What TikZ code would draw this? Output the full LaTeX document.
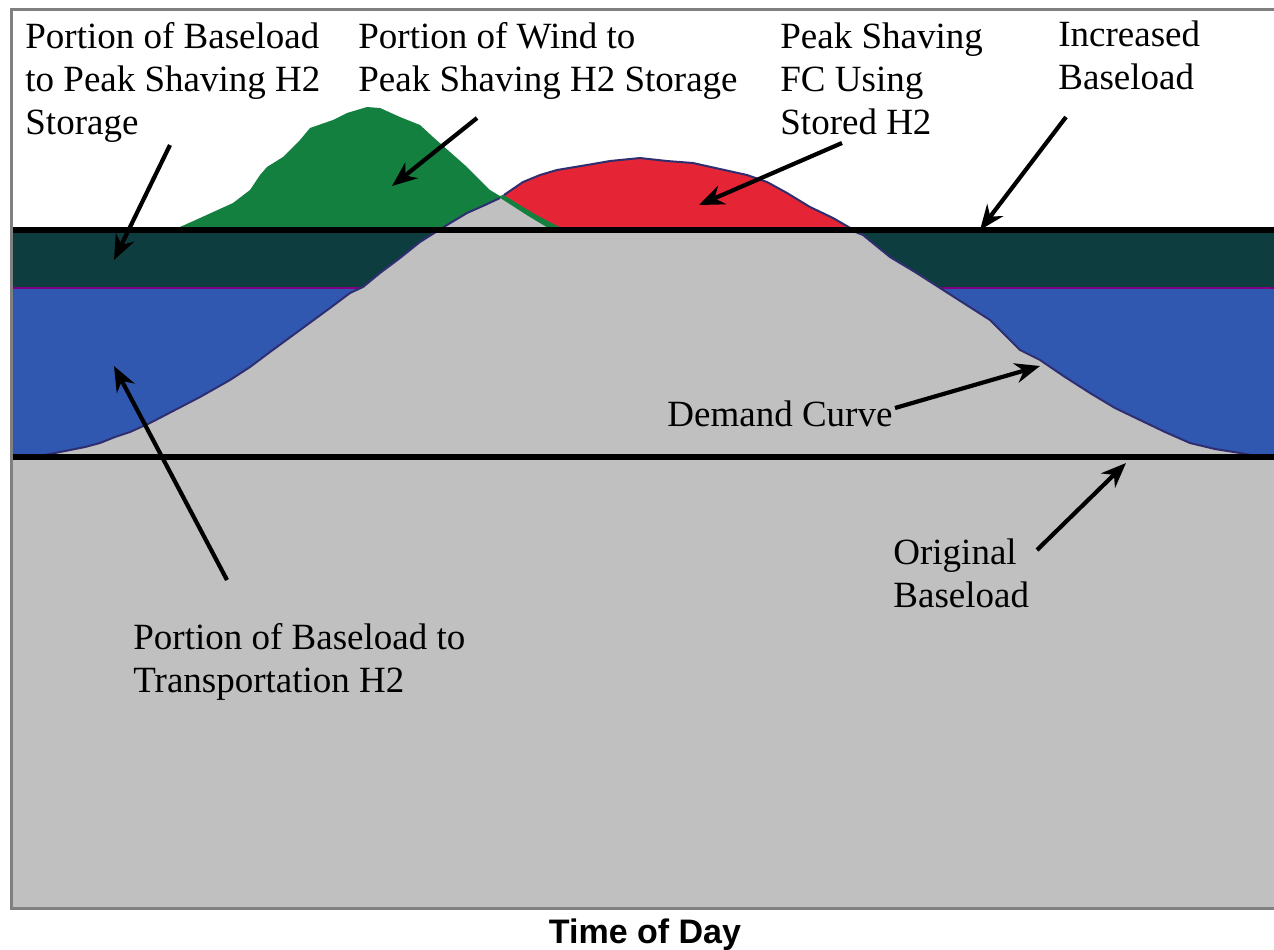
\documentclass[tikz,border=0pt]{standalone}
\usepackage{fontspec}
\setmainfont{Liberation Serif}
\newfontfamily\axisfont{Liberation Sans}
\usetikzlibrary{arrows.meta}
\definecolor{bandteal}{RGB}{14,61,64}
\definecolor{bandblue}{RGB}{48,88,176}
\definecolor{plotgray}{RGB}{192,192,192}
\definecolor{windgreen}{RGB}{20,128,64}
\definecolor{peakred}{RGB}{229,37,53}
\definecolor{curvenavy}{RGB}{46,46,112}
\definecolor{linepurple}{RGB}{128,0,128}
\definecolor{framegray}{RGB}{128,128,128}
\tikzset{
  lbl/.style={anchor=north west,inner sep=0pt,align=left,font=\fontsize{18.5}{21.5}\selectfont},
  pointer/.style={line width=2.1pt,-{Stealth[length=12.5pt,width=10pt]}},
  baseline/.style={line width=3pt,black},
  demand/.style={curvenavy,line width=1pt,line join=round}
}
\begin{document}
\begin{tikzpicture}[x=0.5pt,y=-0.5pt]
\useasboundingbox (0,0) rectangle (1274,949);
\fill[white] (0,0) rectangle (1274,949);
% bands
\fill[bandteal] (11,231) rectangle (1274,288);
\fill[bandblue] (11,288) rectangle (1274,457);
\fill[plotgray] (11,457) rectangle (1274,908);
\draw[linepurple,line width=1.2pt] (11,288) -- (1274,288);
% wind hill
\fill[windgreen] (165,230) -- (180,227) -- (200,218) -- (233,203) -- (250,190) -- (260,175) -- (267,167)
  -- (283,157) -- (300,140) -- (310,128) -- (333,120) -- (347,113) -- (367,107) -- (380,108)
  -- (400,117) -- (420,125) -- (433,137) -- (450,152) -- (467,167) -- (490,190) -- (500,196)
  -- (508,193) -- (540,210) -- (575,231) -- cycle;
% peak shaving dome
\fill[peakred] (504,195) -- (523,182) -- (540,175) -- (557,170) -- (587,165) -- (610,161) -- (640,158)
  -- (667,161) -- (693,163) -- (720,169) -- (747,175) -- (767,182) -- (787,193) -- (810,207)
  -- (833,218) -- (852,229) -- (566,230) -- (550,222) -- (535,214) -- (520,205) -- cycle;
% demand mountain
\fill[plotgray] (35,457) -- (45,455) -- (70,450) -- (85,447) -- (100,443) -- (115,437) -- (130,432)
  -- (150,423) -- (175,410) -- (200,397) -- (230,380) -- (250,367) -- (270,352) -- (300,330)
  -- (330,308) -- (350,293) -- (363,287) -- (380,273) -- (400,258) -- (420,242) -- (447,225)
  -- (467,213) -- (485,205) -- (500,198) -- (514,207) -- (528,216) -- (553,231)
  -- (853,231) -- (863,235) -- (890,257) -- (915,272) -- (940,288) -- (965,304) -- (990,320)
  -- (1020,350) -- (1040,360) -- (1065,377) -- (1090,393) -- (1115,408) -- (1140,420)
  -- (1165,432) -- (1190,443) -- (1215,449) -- (1240,453) -- (1262,457) -- cycle;
\draw[demand] (35,457) -- (45,455) -- (70,450) -- (85,447) -- (100,443) -- (115,437) -- (130,432)
  -- (150,423) -- (175,410) -- (200,397) -- (230,380) -- (250,367) -- (270,352) -- (300,330)
  -- (330,308) -- (350,293) -- (363,287) -- (380,273) -- (400,258) -- (420,242) -- (447,225)
  -- (467,213) -- (485,205) -- (500,198);
\draw[demand] (504,195) -- (523,182) -- (540,175) -- (557,170) -- (587,165) -- (610,161) -- (640,158)
  -- (667,161) -- (693,163) -- (720,169) -- (747,175) -- (767,182) -- (787,193) -- (810,207)
  -- (833,218) -- (852,229);
\draw[demand] (853,231) -- (863,235) -- (890,257) -- (915,272) -- (940,288) -- (965,304) -- (990,320)
  -- (1020,350) -- (1040,360) -- (1065,377) -- (1090,393) -- (1115,408) -- (1140,420)
  -- (1165,432) -- (1190,443) -- (1215,449) -- (1240,453) -- (1262,457);
% baseload lines
\draw[baseline] (11,230) -- (1274,230);
\draw[baseline] (11,457) -- (1274,457);
% frame
\draw[framegray,line width=1.5pt] (1274,9) -- (11,9) -- (11,908) -- (1274,908);
% labels
\node[lbl] (lbase) at (25,22) {Portion of Baseload\\to Peak Shaving H2\\Storage};
\node[lbl] (lwind) at (358,22) {Portion of Wind to\\Peak Shaving H2 Storage};
\node[lbl] (lfc) at (780,22) {Peak Shaving\\FC Using\\Stored H2};
\node[lbl] (linc) at (1058,20) {Increased\\Baseload};
\node[lbl] (ldem) at (667,400) {Demand Curve};
\node[lbl] (lorig) at (893,538) {Original\\Baseload};
\node[lbl] (ltrans) at (133,623) {Portion of Baseload to\\Transportation H2};
\node[font=\axisfont\bfseries\fontsize{17}{20}\selectfont] (axis) at (645,935) {Time of Day};
% pointer coordinates
\coordinate (t1) at (170,145); \coordinate (h1) at (114,260);
\coordinate (t2) at (477,118); \coordinate (h2) at (392,186);
\coordinate (t3) at (842,143); \coordinate (h3) at (699,205);
\coordinate (t4) at (1066,117); \coordinate (h4) at (980,230);
\coordinate (t5) at (895,408); \coordinate (h5) at (1040,366);
\coordinate (t6) at (1037,550); \coordinate (h6) at (1126,463);
\coordinate (t7) at (227,580); \coordinate (h7) at (114,366);
\draw[pointer] (t1) -- (h1);
\draw[pointer] (t2) -- (h2);
\draw[pointer] (t3) -- (h3);
\draw[pointer] (t4) -- (h4);
\draw[pointer] (t5) -- (h5);
\draw[pointer] (t6) -- (h6);
\draw[pointer] (t7) -- (h7);
\end{tikzpicture}
\end{document}
